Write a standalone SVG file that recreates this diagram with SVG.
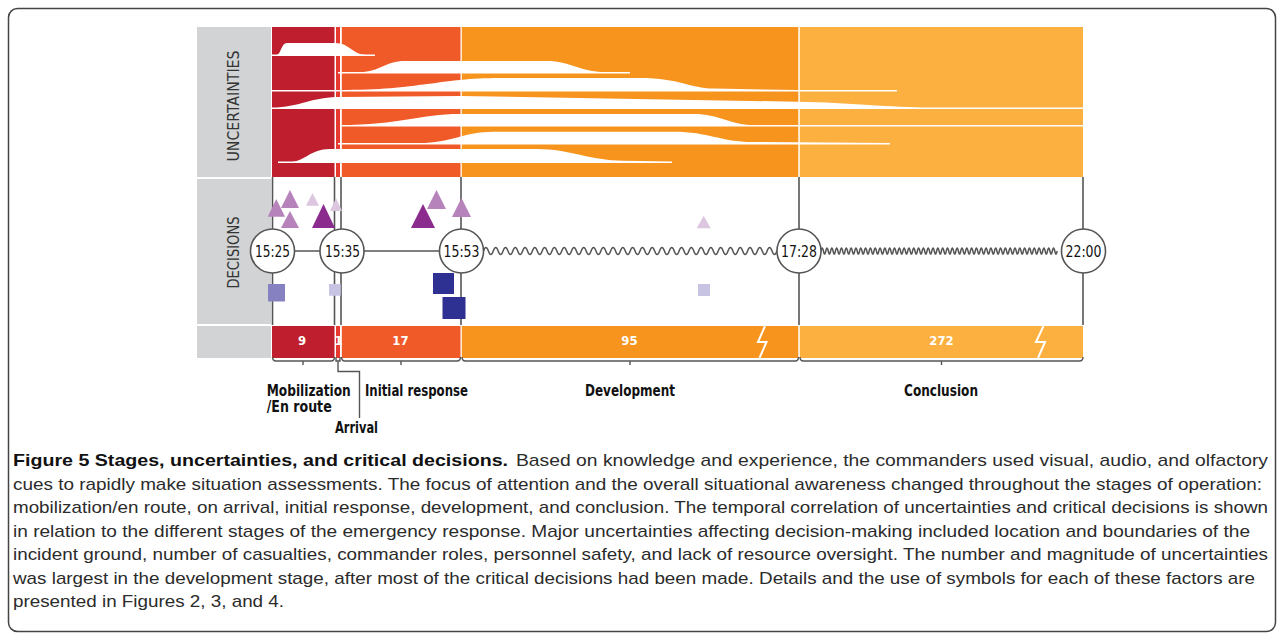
<svg xmlns="http://www.w3.org/2000/svg" width="1282" height="635" viewBox="0 0 1282 635">
<style>
.c-mob{fill:#be1e2d}
.c-arr{fill:#e8392f}
.c-ini{fill:#f05a28}
.c-dev{fill:#f7941d}
.c-con{fill:#fbb040}
.gray{fill:#d1d3d4}
.band{fill:#fff}
.vline{stroke:#555;stroke-width:1.6;fill:none}
.tl{stroke:#555;stroke-width:1.6;fill:none}
.wave{stroke:#555;stroke-width:1.5;fill:none}
.node circle{fill:#fff;stroke:#555;stroke-width:1.6}
.node text{font-family:"DejaVu Sans Condensed","DejaVu Sans",sans-serif;font-size:15.5px;fill:#111;text-anchor:middle}
.tri-m{fill:#b683ba}
.tri-l{fill:#dcc6e0}
.tri-d{fill:#8a2b8d}
.sq-m{fill:#8682c2}
.sq-l{fill:#c6c3e3}
.sq-d{fill:#2e3192}
.barnum{font-family:"DejaVu Sans Condensed","DejaVu Sans",sans-serif;font-weight:bold;font-size:13px;fill:#fff;text-anchor:middle}
.stage{font-family:"DejaVu Sans Condensed","DejaVu Sans",sans-serif;font-weight:bold;font-size:15.5px;fill:#111}
.row{font-family:"DejaVu Sans Condensed","DejaVu Sans",sans-serif;font-size:16px;fill:#333;text-anchor:middle}
.cap{font-family:"Liberation Sans",Arial,sans-serif;font-size:17px;fill:#2b2b2b}
.capb{font-weight:bold;fill:#111}
.brk{stroke:#555;stroke-width:1.4;fill:none}
.bolt{stroke:#fff;stroke-width:2;fill:none;stroke-linejoin:miter}
</style>
<rect x="0" y="0" width="1282" height="635" fill="#fff"/>
<rect id="frame" x="8.5" y="8.5" width="1267" height="623" rx="9" fill="none" stroke="#444" stroke-width="1.5"/>

<g id="uncertainties">
  <rect class="gray" x="197" y="27" width="74" height="150"/>
  <rect class="c-mob" x="272" y="27" width="62.5" height="150"/>
  <rect class="c-arr" x="336" y="27" width="4" height="150"/>
  <rect class="c-ini" x="341.8" y="27" width="118.7" height="150"/>
  <rect class="c-dev" x="461.8" y="27" width="336.5" height="150"/>
  <rect class="c-con" x="799.8" y="27" width="283.2" height="150"/>
  <g id="bands" class="band">
    <path d="M272,56 L272,54.5 L277,54.5 C281,54.5 281,43 287,43 L335,43 C350,43 352,54.5 365,54.5 L375,54.5 L375,56 Z"/>
    <path d="M338,73.5 L338,72 L360,72 C380,72 385,61 405,61 L547,61 C570,61 580,72 605,72 L630,72 L630,73.5 Z"/>
    <path d="M272,91.5 L272,90 L340,90 C420,90 440,78 500,78 L640,78 C680,78 690,88.5 713,88.5 L797,90 L897,90 L897,91.5 Z"/>
    <path d="M272,109 L272,107.5 C300,107.5 310,97 340,97 L460,96 L797,101.7 C850,102.5 890,107.5 930,107.5 L1083,107.5 L1083,109 Z"/>
    <path d="M340,126.5 L340,125 C400,125 420,114 460,114 L693,114 C720,114 730,125 753,125 L1083,125 L1083,126.5 Z"/>
    <path d="M338,144.5 L338,143 L420,143 C450,143 465,131.7 493,131.7 L673,131.7 C710,131.7 720,142 753,142 L890,143 L890,144.5 Z"/>
    <path d="M278,163 L278,161.5 L292,161.5 C305,161.5 310,149 330,149 L537,149 C570,149 590,160.7 623,160.7 L672,161.5 L672,163 Z"/>
  </g>
  <text class="row" transform="translate(238.5,106) rotate(-90)" textLength="111" lengthAdjust="spacingAndGlyphs">UNCERTAINTIES</text>
</g>

<g id="decisions">
  <rect class="gray" x="197" y="179" width="74" height="145"/>
  <text class="row" transform="translate(238.5,252.5) rotate(-90)" textLength="72" lengthAdjust="spacingAndGlyphs">DECISIONS</text>
  <g class="vline">
    <line x1="272.5" y1="177" x2="272.5" y2="325"/>
    <line x1="334.5" y1="177" x2="334.5" y2="325"/>
    <line x1="341" y1="177" x2="341" y2="325"/>
    <line x1="461" y1="177" x2="461" y2="325"/>
    <line x1="799" y1="177" x2="799" y2="325"/>
    <line x1="1083" y1="177" x2="1083" y2="325"/>
  </g>
</g>

<g id="connectors">
  <line class="tl" x1="272" y1="251" x2="461" y2="251"/>
  <path class="wave" d="M483.5,251 q2.445,-7 4.89,0 t4.89,0 t4.89,0 t4.89,0 t4.89,0 t4.89,0 t4.89,0 t4.89,0 t4.89,0 t4.89,0 t4.89,0 t4.89,0 t4.89,0 t4.89,0 t4.89,0 t4.89,0 t4.89,0 t4.89,0 t4.89,0 t4.89,0 t4.89,0 t4.89,0 t4.89,0 t4.89,0 t4.89,0 t4.89,0 t4.89,0 t4.89,0 t4.89,0 t4.89,0 t4.89,0 t4.89,0 t4.89,0 t4.89,0 t4.89,0 t4.89,0 t4.89,0 t4.89,0 t4.89,0 t4.89,0 t4.89,0 t4.89,0 t4.89,0 t4.89,0 t4.89,0 t4.89,0 t4.89,0 t4.89,0 t4.89,0 t4.89,0 t4.89,0 t4.89,0 t4.89,0 t4.89,0 t4.89,0 t4.89,0 t4.89,0 t4.89,0 t4.89,0 t4.89,0"/>
  <path class="wave" d="M821,251 q1.205,-6 2.41,0 t2.41,0 t2.41,0 t2.41,0 t2.41,0 t2.41,0 t2.41,0 t2.41,0 t2.41,0 t2.41,0 t2.41,0 t2.41,0 t2.41,0 t2.41,0 t2.41,0 t2.41,0 t2.41,0 t2.41,0 t2.41,0 t2.41,0 t2.41,0 t2.41,0 t2.41,0 t2.41,0 t2.41,0 t2.41,0 t2.41,0 t2.41,0 t2.41,0 t2.41,0 t2.41,0 t2.41,0 t2.41,0 t2.41,0 t2.41,0 t2.41,0 t2.41,0 t2.41,0 t2.41,0 t2.41,0 t2.41,0 t2.41,0 t2.41,0 t2.41,0 t2.41,0 t2.41,0 t2.41,0 t2.41,0 t2.41,0 t2.41,0 t2.41,0 t2.41,0 t2.41,0 t2.41,0 t2.41,0 t2.41,0 t2.41,0 t2.41,0 t2.41,0 t2.41,0 t2.41,0 t2.41,0 t2.41,0 t2.41,0 t2.41,0 t2.41,0 t2.41,0 t2.41,0 t2.41,0 t2.41,0 t2.41,0 t2.41,0 t2.41,0 t2.41,0 t2.41,0 t2.41,0 t2.41,0 t2.41,0 t2.41,0 t2.41,0 t2.41,0 t2.41,0 t2.41,0 t2.41,0 t2.41,0 t2.41,0 t2.41,0 t2.41,0 t2.41,0 t2.41,0 t2.41,0 t2.41,0 t2.41,0 t2.41,0 t2.41,0 t2.41,0 t2.41,0 t2.41,0"/>
  <path class="brk" d="M338,361 V371.5 H359.5 V418"/>
</g>

<g id="symbols">
  <polygon class="tri-m" points="276.3,199 285,216.7 267.7,216.7"/>
  <polygon class="tri-m" points="290,190 299,208 281,208"/>
  <polygon class="tri-m" points="290,211 299,228 281,228"/>
  <polygon class="tri-l" points="312.5,193 319,205.7 306,205.7"/>
  <polygon class="tri-d" points="323.5,204 335,228 312,228"/>
  <polygon class="tri-l" points="336,198 342,211 330,211"/>
  <polygon class="tri-d" points="423,204 435,228 411,228"/>
  <polygon class="tri-m" points="436.5,190 446,209 427,209"/>
  <polygon class="tri-m" points="461.5,198 471,217 452,217"/>
  <polygon class="tri-l" points="703.7,215.7 710.7,228.3 696.7,228.3"/>
  <rect class="sq-m" x="268" y="284" width="17" height="17.5"/>
  <rect class="sq-l" x="329" y="284" width="11.7" height="11.7"/>
  <rect class="sq-d" x="433" y="273" width="21" height="21"/>
  <rect class="sq-d" x="442.5" y="297" width="23" height="22"/>
  <rect class="sq-l" x="698" y="284" width="12" height="12"/>
</g>

<g id="n1525" class="node"><circle cx="272.5" cy="251" r="22"/><text x="272.5" y="256.5" textLength="35" lengthAdjust="spacingAndGlyphs">15:25</text></g>
<g id="n1535" class="node"><circle cx="342" cy="251" r="22"/><text x="342.5" y="256.5" textLength="35" lengthAdjust="spacingAndGlyphs">15:35</text></g>
<g id="n1553" class="node"><circle cx="461.5" cy="251" r="22"/><text x="461.5" y="256.5" textLength="36" lengthAdjust="spacingAndGlyphs">15:53</text></g>
<g id="n1728" class="node"><circle cx="799" cy="251" r="22"/><text x="799" y="256.5" textLength="36" lengthAdjust="spacingAndGlyphs">17:28</text></g>
<g id="n2200" class="node"><circle cx="1083.5" cy="251" r="22"/><text x="1083.5" y="256.5" textLength="36" lengthAdjust="spacingAndGlyphs">22:00</text></g>

<g id="duration-bar">
  <rect class="gray" x="197" y="326" width="74" height="32"/>
  <rect class="c-mob" x="272" y="326" width="62.5" height="32"/>
  <rect class="c-arr" x="336" y="326" width="4" height="32"/>
  <rect class="c-ini" x="341.8" y="326" width="118.7" height="32"/>
  <rect class="c-dev" x="461.8" y="326" width="336.5" height="32"/>
  <rect class="c-con" x="799.8" y="326" width="283.2" height="32"/>
  <path class="bolt" d="M765,326 L758,342 L766.5,342 L759.5,358"/>
  <path class="bolt" d="M1043.5,326 L1036,342 L1045,342 L1038,358"/>
  <text class="barnum" x="302" y="345">9</text>
  <text class="barnum" x="338.5" y="345">1</text>
  <text class="barnum" x="400.5" y="345">17</text>
  <text class="barnum" x="629.5" y="345">95</text>
  <text class="barnum" x="941.5" y="345">272</text>
  <g class="brk">
    <path d="M272.5,357 Q272.5,361 276,361 L331,361 Q334.5,361 334.5,357 M303,361 V365"/>
    <path d="M336,357 V361 H340 V357"/>
    <path d="M341.5,357 Q341.5,361 345,361 L457,361 Q460.5,361 460.5,357 M401,361 V365"/>
    <path d="M462,357 Q462,361 465.5,361 L795,361 Q798.5,361 798.5,357 M630,361 V365"/>
    <path d="M800,357 Q800,361 803.5,361 L1079.5,361 Q1083,361 1083,357 M941.5,361 V365"/>
  </g>
</g>

<g id="stage-labels">
  <text class="stage" x="266.7" y="396" textLength="84" lengthAdjust="spacingAndGlyphs">Mobilization</text>
  <text class="stage" x="266.7" y="411.5" textLength="65" lengthAdjust="spacingAndGlyphs">/En route</text>
  <text class="stage" x="365" y="396" textLength="103" lengthAdjust="spacingAndGlyphs">Initial response</text>
  <text class="stage" x="335" y="433" textLength="43" lengthAdjust="spacingAndGlyphs">Arrival</text>
  <text class="stage" x="585" y="396" textLength="90" lengthAdjust="spacingAndGlyphs">Development</text>
  <text class="stage" x="904" y="396" textLength="74" lengthAdjust="spacingAndGlyphs">Conclusion</text>
</g>

<g id="caption" class="cap">
  <text class="capb" x="13" y="466" textLength="495" lengthAdjust="spacingAndGlyphs">Figure 5 Stages, uncertainties, and critical decisions.</text>
  <text x="516" y="466" textLength="752" lengthAdjust="spacingAndGlyphs">Based on knowledge and experience, the commanders used visual, audio, and olfactory</text>
  <text x="13" y="489.5" textLength="1249" lengthAdjust="spacingAndGlyphs">cues to rapidly make situation assessments. The focus of attention and the overall situational awareness changed throughout the stages of operation:</text>
  <text x="13" y="513" textLength="1255" lengthAdjust="spacingAndGlyphs">mobilization/en route, on arrival, initial response, development, and conclusion. The temporal correlation of uncertainties and critical decisions is shown</text>
  <text x="13" y="536.5" textLength="1237" lengthAdjust="spacingAndGlyphs">in relation to the different stages of the emergency response. Major uncertainties affecting decision-making included location and boundaries of the</text>
  <text x="13" y="560" textLength="1255" lengthAdjust="spacingAndGlyphs">incident ground, number of casualties, commander roles, personnel safety, and lack of resource oversight. The number and magnitude of uncertainties</text>
  <text x="13" y="583.5" textLength="1242" lengthAdjust="spacingAndGlyphs">was largest in the development stage, after most of the critical decisions had been made. Details and the use of symbols for each of these factors are</text>
  <text x="13" y="607" textLength="271" lengthAdjust="spacingAndGlyphs">presented in Figures 2, 3, and 4.</text>
</g>
</svg>
